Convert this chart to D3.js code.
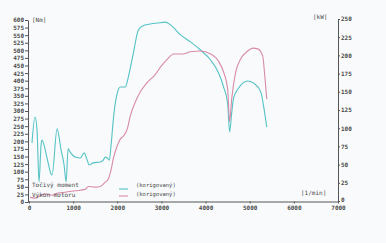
<!DOCTYPE html>
<html><head><meta charset="utf-8">
<script src="https://cdn.jsdelivr.net/npm/d3@7"></script>
<style>
html,body{margin:0;padding:0;background:#f8fafb;}
svg{display:block;}
text{font-family:"DejaVu Sans Mono",monospace;fill:#4a4a4a;}
</style></head><body>
<svg id="c" width="386" height="243"></svg>
<script>
// Data
const xTicks = [0,1000,2000,3000,4000,5000,6000,7000];
const nmTicks = d3.range(0,601,25);
const kwTicks = d3.range(0,251,25);

const torqueRpm = [68,136,182,227,273,295,409,500,523,636,727,795,841,886,932,1045,1159,1250,1318,1364,1455,1614,1682,1727,1773,1818,1864,1909,1955,2000,2068,2182,2250,2364,2477,2568,2750,2909,3091,3205,3432,3659,3886,4114,4295,4409,4500,4545,4591,4636,4750,4955,5091,5250,5318,5386];
const torqueNm  = [195,280,237,66,188,204,145,92,89,241,171,122,66,175,165,148,145,162,138,122,129,132,138,148,145,138,195,270,326,359,379,379,412,491,567,580,587,590,593,584,551,528,501,468,425,379,326,231,293,343,376,399,392,363,313,247];

const powerRpm = [23,136,250,364,523,659,818,1045,1273,1341,1500,1614,1727,1795,1864,1909,2000,2068,2136,2227,2295,2409,2523,2682,2864,2977,3136,3273,3500,3659,3886,4114,4295,4409,4500,4545,4591,4682,4795,4955,5068,5182,5295,5341,5386];
const powerKw  = [5,4,7,10,8,11,12,14,16,20,19,20,26,30,44,58,76,85,89,99,117,136,150,163,174,184,195,202,202,205,206,202,192,177,154,109,140,177,195,206,210,209,199,172,140];

const legendLeft = ["Točivý moment","Výkon motoru"];
const legendRight = ["(korigovaný)","(korigovaný)"];
const colors = ["#55c2c5","#d98aa8"];

const svg = d3.select("#c");
const x = d3.scaleLinear().domain([0,7000]).range([29,338]);
const yL = d3.scaleLinear().domain([0,600]).range([202,20]);
const yR = d3.scaleLinear().domain([0,250]).range([201,19]);

function styleAxis(g){
  g.selectAll("path").attr("stroke","#555").attr("stroke-width",1);
  g.selectAll("line").attr("stroke","#555");
  g.selectAll("text").style("font-size","6px").attr("fill","#4a4a4a").style("font-weight","bold");
}

svg.append("g").attr("transform","translate(28,0)")
  .call(d3.axisLeft(yL).tickValues(nmTicks).tickSize(3).tickSizeOuter(0).tickPadding(1).tickFormat(d3.format("d")))
  .call(styleAxis);

const ra = svg.append("g").attr("transform","translate(338,0)")
  .call(d3.axisRight(yR).tickValues(kwTicks).tickSize(2).tickSizeOuter(0).tickPadding(1).tickFormat(d3.format("d")))
  .call(styleAxis);
ra.selectAll(".tick").filter(d=>d===0).select("text").attr("dy","0.05em");

const xa = svg.append("g").attr("transform","translate(0,201.5)")
  .call(d3.axisBottom(x).tickValues(xTicks).tickSize(2).tickSizeOuter(0).tickPadding(2).tickFormat(d3.format("d")))
  .call(styleAxis);
xa.select("path.domain").attr("d","M28,0.5H338");

// unit labels
svg.append("text").attr("x",32).attr("y",22).style("font-size","6px").text("[Nm]");
svg.append("text").attr("x",313).attr("y",19).style("font-size","6px").text("[kW]");
svg.append("text").attr("x",301).attr("y",195).style("font-size","6px").text("[1/min]");

// curves
const lineT = d3.line().x((d,i)=>x(torqueRpm[i])).y(d=>yL(d)).curve(d3.curveMonotoneX);
const lineP = d3.line().x((d,i)=>x(powerRpm[i])).y(d=>yR(d)).curve(d3.curveMonotoneX);
svg.append("path").attr("d",lineT(torqueNm)).attr("fill","none").attr("stroke",colors[0]).attr("stroke-width",1.1);
svg.append("path").attr("d",lineP(powerKw)).attr("fill","none").attr("stroke",colors[1]).attr("stroke-width",1.1);

// legend
legendLeft.forEach((t,i)=>{
  svg.append("text").attr("x",32).attr("y",187+i*10).style("font-size","6px").attr("fill","#555").text(t);
});
legendRight.forEach((t,i)=>{
  svg.append("line").attr("x1",119).attr("x2",128).attr("y1",189+i*7).attr("y2",189+i*7)
    .attr("stroke",colors[i]).attr("stroke-width",1.1);
  svg.append("text").attr("x",136).attr("y",187+i*8.5).style("font-size","5.5px").attr("fill","#555").text(t);
});
</script></body></html>
